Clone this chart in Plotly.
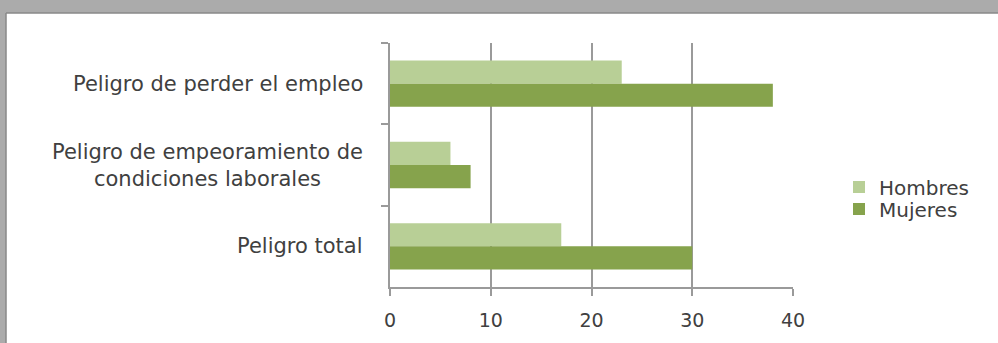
import plotly.graph_objects as go

# Categories (top to bottom) and values per group
categorias = [
    "Peligro de perder el empleo",
    "Peligro de empeoramiento de<br>condiciones laborales",
    "Peligro total",
]
hombres = [23, 6, 17]
mujeres = [38, 8, 30]
x_ticks = [0, 10, 20, 30, 40]

W, H = 998, 343
L, R, T, B = 390, 205, 43, 56
pw, ph = W - L - R, H - T - B

def px_x(p):
    return (p - L) / pw

def px_y(p):
    return (H - B - p) / ph

FONT = "DejaVu Sans"
TXT = "#404040"
GRID = "#9a9a9a"

fig = go.Figure()
fig.add_trace(go.Bar(
    y=categorias, x=hombres, name="Hombres", orientation="h",
    marker=dict(color="#b8cf96", line=dict(width=0)),
    legend="legend",
))
fig.add_trace(go.Bar(
    y=categorias, x=mujeres, name="Mujeres", orientation="h",
    marker=dict(color="#86a34c", line=dict(width=0)),
    legend="legend2",
))

# Category labels, centred line by line
for c in categorias:
    fig.add_annotation(
        x=px_x(L - 25), xref="paper", y=c, yref="y",
        text=c, showarrow=False, xanchor="right", yanchor="middle",
        align="center", font=dict(family=FONT, size=21, color=TXT),
    )

# Grey window frame along the top and left edges
fig.add_shape(type="rect", xref="paper", yref="paper",
              x0=px_x(0), x1=px_x(W), y0=px_y(13), y1=px_y(0),
              fillcolor="#ababab", line=dict(width=0), layer="below")
fig.add_shape(type="rect", xref="paper", yref="paper",
              x0=px_x(0), x1=px_x(6), y0=px_y(H), y1=px_y(0),
              fillcolor="#ababab", line=dict(width=0), layer="below")
fig.add_shape(type="line", xref="paper", yref="paper",
              x0=px_x(6), x1=px_x(W), y0=px_y(13), y1=px_y(13),
              line=dict(color="#888888", width=1.5))
fig.add_shape(type="line", xref="paper", yref="paper",
              x0=px_x(6), x1=px_x(6), y0=px_y(H), y1=px_y(13),
              line=dict(color="#888888", width=1.5))

legend_style = dict(
    xanchor="left", yanchor="middle",
    font=dict(family=FONT, size=20, color=TXT),
    itemwidth=30, bgcolor="rgba(0,0,0,0)",
)

fig.update_layout(
    width=W, height=H,
    margin=dict(l=L, r=R, t=T, b=B),
    paper_bgcolor="white", plot_bgcolor="white",
    barmode="group", bargap=0.43, bargroupgap=0,
    font=dict(family=FONT, size=19, color=TXT),
    showlegend=True,
    legend=dict(x=px_x(839), y=px_y(187), **legend_style),
    legend2=dict(x=px_x(839), y=px_y(209), **legend_style),
    xaxis=dict(
        range=[0, 40], tickvals=x_ticks, showgrid=True,
        gridcolor=GRID, gridwidth=2, showline=True, linecolor=GRID,
        linewidth=2, ticks="outside", ticklen=7, tickcolor=GRID,
        tickwidth=2, zeroline=False, ticklabelstandoff=8,
        tickfont=dict(family=FONT, size=19, color=TXT),
    ),
    yaxis=dict(
        autorange="reversed", type="category", showticklabels=False,
        showline=True, linecolor=GRID, linewidth=2,
        ticks="outside", tickson="boundaries", ticklen=7,
        tickcolor=GRID, tickwidth=2, showgrid=False,
    ),
)

fig.write_html("out.html")
